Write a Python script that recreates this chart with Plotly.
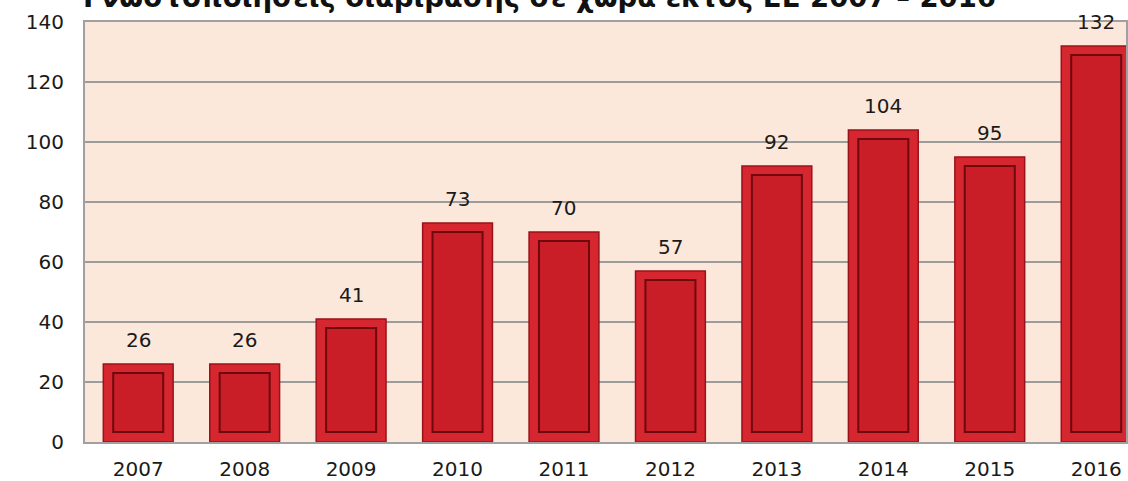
import plotly.graph_objects as go

years = ["2007", "2008", "2009", "2010", "2011", "2012", "2013", "2014", "2015", "2016"]
values = [26, 26, 41, 73, 70, 57, 92, 104, 95, 132]
title_text = "Γνωστοποιήσεις διαβίβασης σε χώρα εκτός ΕΕ 2007 – 2016"

FONT = "DejaVu Sans"
outer_w = 0.656
inner_w = 0.47
inset_bottom = 3.3
inset_top = 3.0

fig = go.Figure()
fig.add_trace(go.Bar(
    x=years, y=values, width=outer_w,
    marker=dict(color="#d6262f", line=dict(color="#9a1219", width=1.5)),
    hoverinfo="skip", showlegend=False,
))
fig.add_trace(go.Bar(
    x=years, y=[v - inset_bottom - inset_top for v in values], base=inset_bottom,
    width=inner_w,
    marker=dict(color="#c91e27", line=dict(color="#6e0a0e", width=2)),
    hoverinfo="skip", showlegend=False,
))

annotations = []
for i, v in enumerate(values):
    annotations.append(dict(
        x=i, y=v, xref="x", yref="y", text=str(v), showarrow=False,
        yanchor="bottom", yshift=10, font=dict(family=FONT, size=20, color="#1a1a1a"),
    ))
annotations.append(dict(
    x=0, xref="paper", xanchor="left", xshift=-4,
    y=1, yref="paper", yanchor="bottom", yshift=7,
    text="<b>" + title_text + "</b>", showarrow=False,
    font=dict(family=FONT, size=27.5, color="#111111"),
))

fig.update_layout(
    width=1128, height=481,
    margin=dict(l=85, r=0, t=22, b=37),
    paper_bgcolor="white", plot_bgcolor="#fce8db",
    barmode="overlay", bargap=0.344,
    font=dict(family=FONT, size=20, color="#1a1a1a"),
    annotations=annotations,
    xaxis=dict(
        type="category", range=[-0.5, 9.28], showgrid=False,
        showline=True, linecolor="#a0a0a0", linewidth=2, mirror=True,
        ticks="", ticklabelstandoff=8, fixedrange=True,
    ),
    yaxis=dict(
        range=[0, 140], dtick=20, showgrid=True, gridcolor="#9c9c9c", gridwidth=1.5,
        zeroline=False, showline=True, linecolor="#a0a0a0", linewidth=2, mirror=True,
        ticks="", ticklabelstandoff=15, fixedrange=True,
    ),
)

fig.write_html(
    "out.html",
    config={"displayModeBar": False},
    post_script="document.body.style.margin='0';document.body.style.overflow='hidden';",
)
